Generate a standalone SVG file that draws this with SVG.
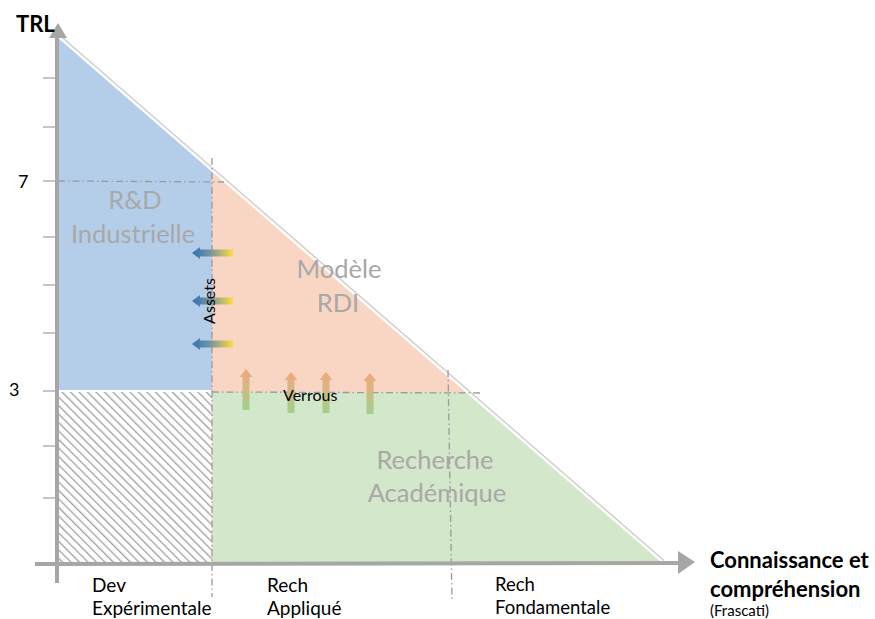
<svg xmlns="http://www.w3.org/2000/svg" width="875" height="619" viewBox="0 0 875 619">
<style>
.ax{stroke:#a6a6a6;stroke-width:4;fill:none}
.tick{stroke:#a6a6a6;stroke-width:1.3}
.dd{stroke:#9a9a9a;stroke-width:1.3;stroke-dasharray:7 3 1.5 3;fill:none}
.t{font-family:Lato,"Liberation Sans",sans-serif;fill:#000}
.b{font-weight:bold}
.reg{font-family:Lato,"Liberation Sans",sans-serif;fill:#a8a8a8;font-size:25.5px;text-anchor:middle}
</style>
<defs>
<pattern id="hatch" patternUnits="userSpaceOnUse" width="6" height="6" patternTransform="rotate(-45)">
<rect width="6" height="6" fill="#fff"/>
<line x1="0" y1="0" x2="0" y2="6" stroke="#a0a0a0" stroke-width="2.6"/>
</pattern>
<linearGradient id="gL" x1="0" y1="0" x2="1" y2="0">
<stop offset="0" stop-color="#2f72b5"/>
<stop offset="0.45" stop-color="#7595a0"/>
<stop offset="1" stop-color="#ffdc40"/>
</linearGradient>
<linearGradient id="gU" x1="0" y1="0" x2="0" y2="1">
<stop offset="0" stop-color="#f5a57a"/>
<stop offset="0.5" stop-color="#cdbb85"/>
<stop offset="1" stop-color="#9ed18a"/>
</linearGradient>
<path id="arrL" d="M0,0 L8,-6 L8,-3.5 L41,-3.5 L41,3.5 L8,3.5 L8,6 Z" fill="url(#gL)"/>
<path id="arrU" d="M0,0 L6.5,8 L3.5,8 L3.5,41 L-3.5,41 L-3.5,8 L-6.5,8 Z" fill="url(#gU)"/>
</defs>

<g id="regions">
<polygon id="blue" points="58,37 212,170 212,390 58,390" fill="#b4cee9"/>
<polygon id="orange" points="212,170 467,392 212,392" fill="#f9d6c3"/>
<polygon id="green" points="212,392 467,392 663,562 212,562" fill="#d3e7cb"/>
<rect id="hatched" x="59" y="392" width="153" height="170" fill="url(#hatch)"/>
<line x1="60" y1="35.5" x2="664" y2="560.5" stroke="#cccccc" stroke-width="1.4"/>
<line x1="58.5" y1="37.5" x2="662" y2="562" stroke="#ffffff" stroke-width="1.4"/>
</g>

<g id="guides">
<line class="dd" x1="58" y1="181" x2="224" y2="182"/>
<line class="dd" x1="212" y1="158" x2="212" y2="597"/>
<line class="dd" x1="212" y1="392" x2="480" y2="393"/>
<line class="dd" x1="448" y1="370" x2="452" y2="600"/>
</g>

<g id="axes">
<line class="ax" x1="57" y1="36" x2="57" y2="583"/>
<polygon points="58,23 49,38 67,38" fill="#a6a6a6"/>
<line class="ax" x1="35" y1="564" x2="680" y2="563"/>
<polygon points="695,562 678,551 678,574" fill="#a6a6a6"/>
<line class="tick" x1="43" y1="78" x2="57" y2="78"/>
<line class="tick" x1="43" y1="127" x2="57" y2="127"/>
<line class="tick" x1="43" y1="181" x2="57" y2="181"/>
<line class="tick" x1="43" y1="237" x2="57" y2="237"/>
<line class="tick" x1="43" y1="285" x2="57" y2="285"/>
<line class="tick" x1="43" y1="333" x2="57" y2="333"/>
<line class="tick" x1="43" y1="391" x2="57" y2="391"/>
<line class="tick" x1="43" y1="446" x2="57" y2="446"/>
<line class="tick" x1="43" y1="498" x2="57" y2="498"/>
</g>

<g id="connectors">
<use href="#arrL" x="192" y="253"/>
<use href="#arrL" x="192" y="301"/>
<use href="#arrL" x="192" y="344"/>
<use href="#arrU" x="246" y="369"/>
<use href="#arrU" x="291" y="372"/>
<use href="#arrU" x="326" y="372"/>
<use href="#arrU" x="370" y="373"/>
</g>

<g id="labels">
<text class="t b" x="16" y="32" font-size="22">TRL</text>
<text class="t" x="18" y="188" font-size="18">7</text>
<text class="t" x="9" y="396" font-size="18">3</text>
<text class="reg" x="135" y="209">R&amp;D</text>
<text class="reg" x="133" y="243">Industrielle</text>
<text class="reg" x="339" y="278">Modèle</text>
<text class="reg" x="338" y="312">RDI</text>
<text class="reg" x="435" y="469">Recherche</text>
<text class="reg" x="437" y="502">Académique</text>
<text class="t" font-size="16" text-anchor="middle" transform="translate(215,301) rotate(-90)">Assets</text>
<text class="t" x="283" y="401" font-size="16">Verrous</text>
<text class="t" x="92" y="592" font-size="19">Dev</text>
<text class="t" x="92" y="615" font-size="19">Expérimentale</text>
<text class="t" x="267" y="592" font-size="19">Rech</text>
<text class="t" x="267" y="615" font-size="19">Appliqué</text>
<text class="t" x="495" y="591" font-size="18.5">Rech</text>
<text class="t" x="495" y="614" font-size="18.5">Fondamentale</text>
<text class="t b" x="710" y="568" font-size="22">Connaissance et</text>
<text class="t b" x="710" y="597" font-size="22">compréhension</text>
<text class="t" x="710" y="616" font-size="15">(Frascati)</text>
</g>
</svg>
